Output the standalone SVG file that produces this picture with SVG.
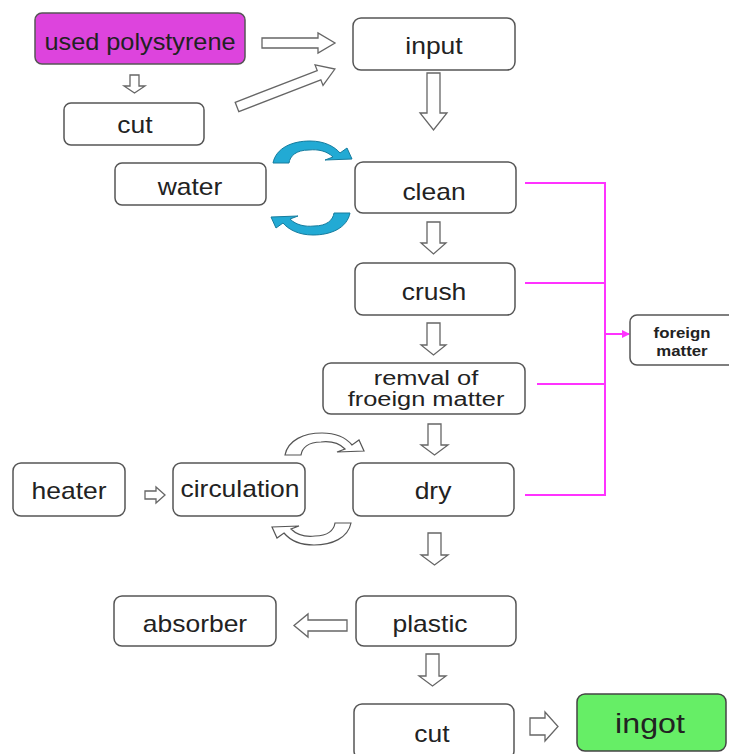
<svg xmlns="http://www.w3.org/2000/svg" width="729" height="754" viewBox="0 0 729 754">
<style>
.box{fill:#fff;stroke:#555;stroke-width:1.5}
.t{font-family:"Liberation Sans",Arial,sans-serif;font-size:23px;fill:#222;text-anchor:middle}
.t2{font-family:"Liberation Sans",Arial,sans-serif;font-size:20px;fill:#222;text-anchor:middle}
.small{font-family:"Liberation Sans",Arial,sans-serif;font-size:14px;font-weight:bold;fill:#222;text-anchor:middle}
.ha{fill:#fff;stroke:#666;stroke-width:1.3;stroke-linejoin:miter}
.mg{stroke:#ff33ff;stroke-width:2;fill:none}
.blue{fill:#22aad4;stroke:#167c9e;stroke-width:1}
.gray{fill:#fff;stroke:#555;stroke-width:1.2}
</style>
<defs>
<marker id="mh" markerWidth="8" markerHeight="8" refX="7" refY="4" orient="auto" markerUnits="userSpaceOnUse">
<path d="M0,0 L8,4 L0,8 Z" fill="#ff33ff"/>
</marker>
<path id="curl" d="M273,163 C276,148 292,141 310,141 C325,141 335,147 340,153 L347,148 L352,159 L325,160 L333,157 C327,151 318,149 309,150 C296,150 290,156 289,163 Z"/>
</defs>

<g id="connectors">
<path class="ha" d="M262,38 L318,38 L318,33 L335,43 L318,53 L318,48 L262,48 Z"/>
<path class="ha" d="M130,75 L139,75 L139,86 L145,86 L134.5,93 L124,86 L130,86 Z"/>
<path class="ha" transform="translate(237,107) rotate(-21.2)" d="M0,-5 L88,-5 L88,-11 L105,0 L88,11 L88,5 L0,5 Z"/>
<path class="ha" d="M427,73 L440,73 L440,113 L447,113 L433.5,130 L420,113 L427,113 Z"/>
<path class="ha" d="M427,222 L440,222 L440,243 L446,243 L433.5,254 L421,243 L427,243 Z"/>
<path class="ha" d="M427,323 L440,323 L440,345 L446,345 L433.5,355 L421,345 L427,345 Z"/>
<path class="ha" d="M428,424 L441,424 L441,445 L448,445 L434.5,455 L421,445 L428,445 Z"/>
<path class="ha" d="M428,533 L441,533 L441,555 L448,555 L434.5,565 L421,555 L428,555 Z"/>
<path class="ha" d="M426,654 L439,654 L439,676 L446,676 L432.5,686 L419,676 L426,676 Z"/>
<path class="ha" d="M347,620 L308,620 L308,614 L294,625.5 L308,637 L308,631 L347,631 Z"/>
<path class="ha" d="M530,718 L545,718 L545,712 L558,726.5 L545,741 L545,735 L530,735 Z"/>
<path class="ha" d="M145,491 L156,491 L156,487 L165,495 L156,503 L156,499 L145,499 Z"/>
<path class="mg" d="M525,183 L605,183 L605,495 L525,495"/>
<line class="mg" x1="525" y1="283" x2="605" y2="283"/>
<line class="mg" x1="537" y1="384" x2="605" y2="384"/>
<line class="mg" x1="605" y1="334" x2="629" y2="334" marker-end="url(#mh)"/>
<use href="#curl" class="blue"/>
<use href="#curl" class="blue" transform="rotate(180 311.5 188)"/>
<use href="#curl" class="gray" transform="translate(12,292)"/>
<use href="#curl" class="gray" transform="rotate(180 318 489) translate(12,292)"/>
</g>

<g id="used-polystyrene"><rect x="35" y="13" width="210" height="51" rx="7" fill="#dd44dd" stroke="#555" stroke-width="1.5"/><text class="t" transform="translate(140,50) scale(1.1,1)">used polystyrene</text></g>
<g id="input"><rect class="box" x="353" y="18" width="162" height="52" rx="8"/><text class="t" transform="translate(434,54) scale(1.15,1)">input</text></g>
<g id="cut-top"><rect class="box" x="64" y="103" width="140" height="42" rx="7"/><text class="t" transform="translate(135,133) scale(1.15,1)">cut</text></g>
<g id="water"><rect class="box" x="115" y="163" width="151" height="42" rx="7"/><text class="t" transform="translate(190,195) scale(1.15,1)">water</text></g>
<g id="clean"><rect class="box" x="355" y="162" width="161" height="51" rx="8"/><text class="t" transform="translate(434,200) scale(1.15,1)">clean</text></g>
<g id="crush"><rect class="box" x="355" y="263" width="160" height="52" rx="8"/><text class="t" transform="translate(434,300) scale(1.15,1)">crush</text></g>
<g id="removal"><rect class="box" x="323" y="363" width="202" height="51" rx="8"/><text class="t2" transform="translate(426,385) scale(1.27,1)">remval of</text><text class="t2" transform="translate(426,406) scale(1.27,1)">froeign matter</text></g>
<g id="foreign-matter"><rect class="box" x="630" y="315" width="105" height="50" rx="7"/><text class="small" transform="translate(682,338) scale(1.2,1)">foreign</text><text class="small" transform="translate(682,356) scale(1.2,1)">matter</text></g>
<g id="heater"><rect class="box" x="13" y="463" width="112" height="53" rx="8"/><text class="t" transform="translate(69,499) scale(1.15,1)">heater</text></g>
<g id="circulation"><rect class="box" x="173" y="463" width="132" height="53" rx="8"/><text class="t" transform="translate(240,497) scale(1.15,1)">circulation</text></g>
<g id="dry"><rect class="box" x="353" y="463" width="161" height="53" rx="8"/><text class="t" transform="translate(433,499) scale(1.15,1)">dry</text></g>
<g id="absorber"><rect class="box" x="114" y="596" width="162" height="50" rx="8"/><text class="t" transform="translate(195,632) scale(1.15,1)">absorber</text></g>
<g id="plastic"><rect class="box" x="356" y="596" width="160" height="50" rx="8"/><text class="t" transform="translate(430,632) scale(1.15,1)">plastic</text></g>
<g id="cut-bottom"><rect class="box" x="354" y="704" width="160" height="55" rx="8"/><text class="t" transform="translate(432,742) scale(1.15,1)">cut</text></g>
<g id="ingot"><rect x="577" y="694" width="149" height="57" rx="8" fill="#66ee66" stroke="#444" stroke-width="1.5"/><text class="t" style="font-size:28px" transform="translate(650,733) scale(1.15,1)">ingot</text></g>
</svg>
